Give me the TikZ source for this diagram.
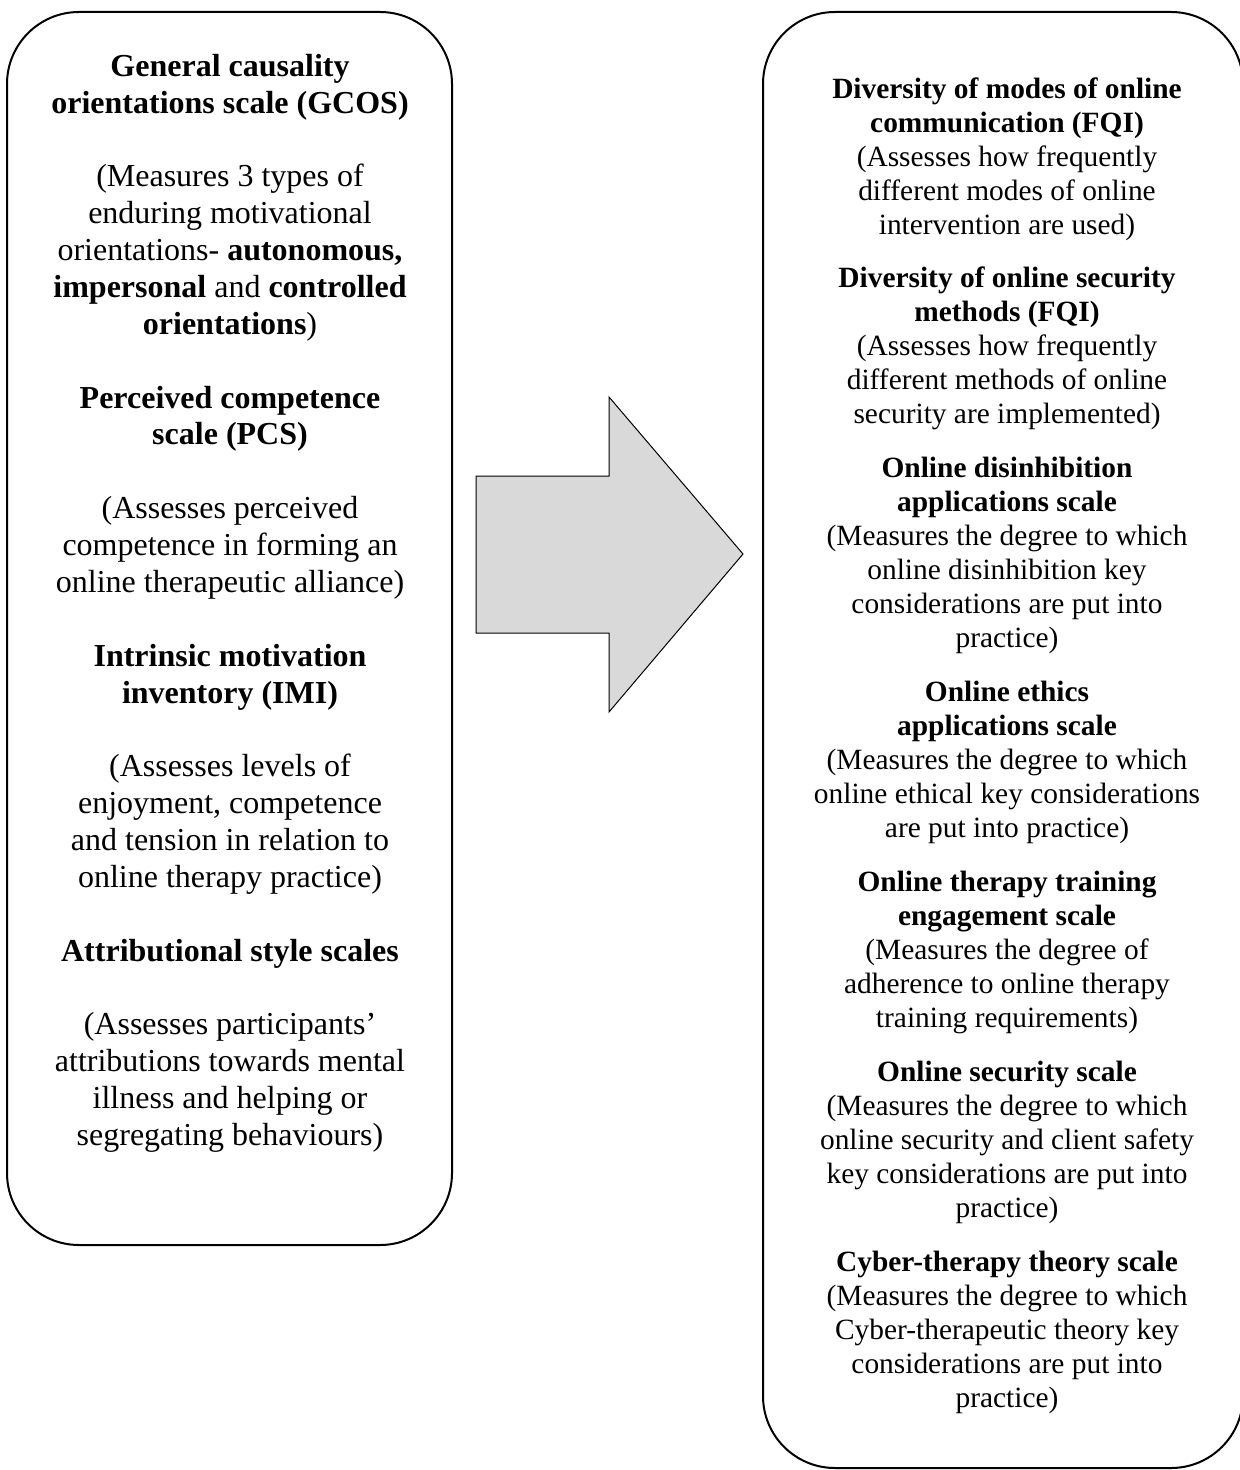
\documentclass[tikz,border=0pt]{standalone}
\usepackage{fontspec}
\setmainfont{Liberation Serif}
\usepackage{tikz}
\definecolor{arrowgray}{HTML}{D9D9D9}

\begin{document}
\begin{tikzpicture}[x=0.5pt,y=-0.5pt,
        panel/.style={draw, line width=1pt, rounded corners=36pt},
        lefttext/.style={anchor=north, inner sep=0pt, align=center, font=\fontsize{16}{18.43}\selectfont},
        righttext/.style={anchor=north, inner sep=0pt, align=center, font=\fontsize{14.7}{17.05}\selectfont}]
        \useasboundingbox (0,0) rectangle (1239,1470);
        \draw[panel] (7,12) rectangle (452,1245);
        \draw[panel] (763,12) rectangle (1243,1468);
        \draw[fill=arrowgray, line width=0.5pt] (476,476) -- (609,476) -- (609,397) -- (743,554) -- (609,712) -- (609,633) -- (476,633) -- cycle;
        \node[lefttext] (gcos) at (230,50.2) {\strut\textbf{General causality}\\ \textbf{orientations scale (GCOS)}\\[\baselineskip] (Measures 3 types of\\ enduring motivational\\ orientations- \textbf{autonomous,}\\ \textbf{impersonal} and \textbf{controlled}\\ \textbf{orientations})};
        \node[lefttext] (pcs) at (230,381.9) {\strut\textbf{Perceived competence}\\ \textbf{scale (PCS)}\\[\baselineskip] (Assesses perceived\\ competence in forming an\\ online therapeutic alliance)};
        \node[lefttext] (imi) at (230,640) {\strut\textbf{Intrinsic motivation}\\ \textbf{inventory (IMI)}\\[\baselineskip] (Assesses levels of\\ enjoyment, competence\\ and tension in relation to\\ online therapy practice)};
        \node[lefttext] (attrib) at (230,934.8) {\strut\textbf{Attributional style scales}\\[\baselineskip] (Assesses participants'\\ attributions towards mental\\ illness and helping or\\ segregating behaviours)};
        \node[righttext] (modes) at (1007,74.1) {\strut\textbf{Diversity of modes of online}\\ \textbf{communication (FQI)}\\ (Assesses how frequently\\ different modes of online\\ intervention are used)};
        \node[righttext] (methods) at (1007,263.1) {\strut\textbf{Diversity of online security}\\ \textbf{methods (FQI)}\\ (Assesses how frequently\\ different methods of online\\ security are implemented)};
        \node[righttext] (disinhib) at (1007,453.1) {\strut\textbf{Online disinhibition}\\ \textbf{applications scale}\\ (Measures the degree to which\\ online disinhibition key\\ considerations are put into\\ practice)};
        \node[righttext] (ethics) at (1007,677.1) {\strut\textbf{Online ethics}\\ \textbf{applications scale}\\ (Measures the degree to which\\ online ethical key considerations\\ are put into practice)};
        \node[righttext] (training) at (1007,867.1) {\strut\textbf{Online therapy training}\\ \textbf{engagement scale}\\ (Measures the degree of\\ adherence to online therapy\\ training requirements)};
        \node[righttext] (security) at (1007,1057.1) {\strut\textbf{Online security scale}\\ (Measures the degree to which\\ online security and client safety\\ key considerations are put into\\ practice)};
        \node[righttext] (cyber) at (1007,1247.1) {\strut\textbf{Cyber-therapy theory scale}\\ (Measures the degree to which\\ Cyber-therapeutic theory key\\ considerations are put into\\ practice)};
        \end{tikzpicture}
\end{document}
